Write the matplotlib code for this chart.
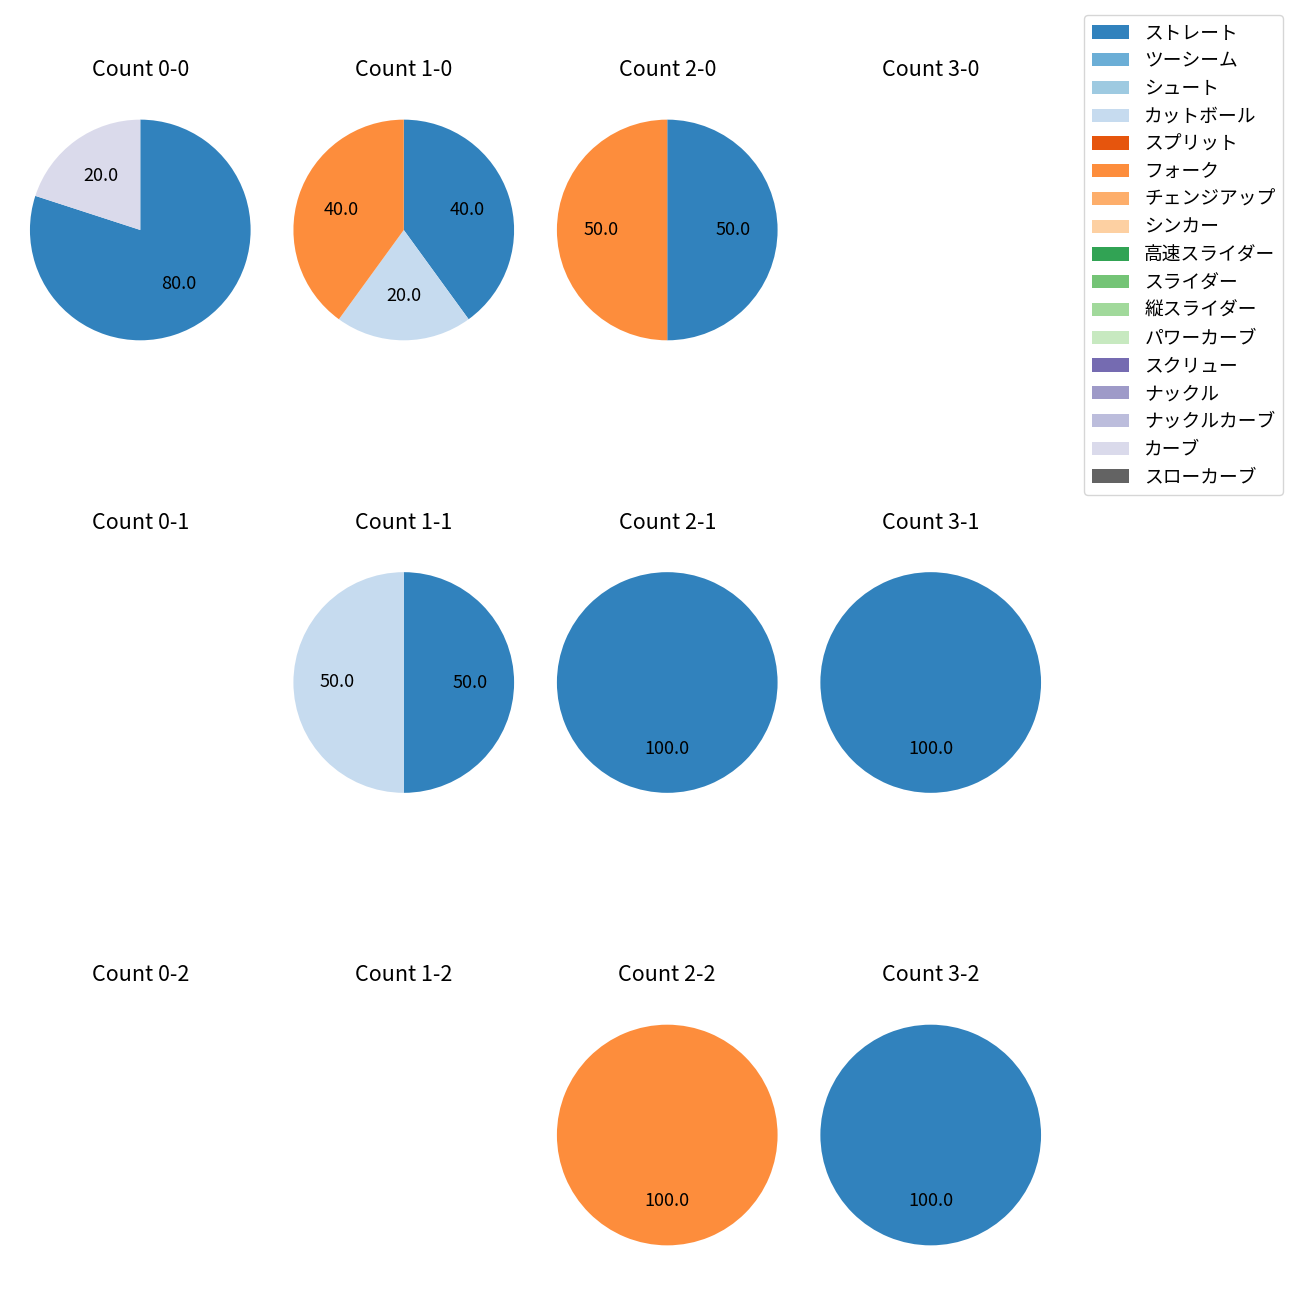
import matplotlib
matplotlib.use("Agg")
import matplotlib.pyplot as plt
from matplotlib.patches import Patch

plt.rcParams['font.family'] = ['Noto Sans CJK JP', 'DejaVu Sans']

pitch_types = ['ストレート', 'ツーシーム', 'シュート', 'カットボール', 'スプリット', 'フォーク',
               'チェンジアップ', 'シンカー', '高速スライダー', 'スライダー', '縦スライダー',
               'パワーカーブ', 'スクリュー', 'ナックル', 'ナックルカーブ', 'カーブ', 'スローカーブ']
colors = [plt.cm.tab20c(i) for i in range(17)]

count_0_0 = {'ストレート': 80.0, 'カーブ': 20.0}
count_1_0 = {'ストレート': 40.0, 'カットボール': 20.0, 'フォーク': 40.0}
count_2_0 = {'ストレート': 50.0, 'フォーク': 50.0}
count_3_0 = {}
count_0_1 = {}
count_1_1 = {'ストレート': 50.0, 'カットボール': 50.0}
count_2_1 = {'ストレート': 100.0}
count_3_1 = {'ストレート': 100.0}
count_0_2 = {}
count_1_2 = {}
count_2_2 = {'フォーク': 100.0}
count_3_2 = {'ストレート': 100.0}

grid = [[count_0_0, count_1_0, count_2_0, count_3_0],
        [count_0_1, count_1_1, count_2_1, count_3_1],
        [count_0_2, count_1_2, count_2_2, count_3_2]]

fig, axes = plt.subplots(3, 4, figsize=(13, 13), dpi=100)
fig.subplots_adjust(left=30.5/1300, right=1040.5/1300, top=1-84/1300, bottom=1-1281/1300,
                    wspace=0.2, hspace=0.55)

for r in range(3):
    for c in range(4):
        ax = axes[r][c]
        d = grid[r][c]
        ax.set_title(f'Count {c}-{r}', fontsize=15.5, pad=5.5)
        if d:
            labels = [p for p in pitch_types if p in d]
            vals = [d[p] for p in labels]
            cols = [colors[pitch_types.index(p)] for p in labels]
            ax.pie(vals, colors=cols, autopct='%.1f', startangle=90, counterclock=False,
                   textprops={'fontsize': 13})
            ax.set_xlim(-0.995, 0.995)
            ax.set_ylim(-0.995, 0.995)
            ax.set_aspect('equal', adjustable='datalim')
        ax.axis('off')

handles = [Patch(facecolor=colors[i], label=pitch_types[i]) for i in range(17)]
fig.legend(handles=handles, loc='upper right', bbox_to_anchor=(1283/1300, 1-15/1300),
           borderaxespad=0, fontsize=13.5, labelspacing=0.36)

fig.savefig('out.png', dpi=100)
